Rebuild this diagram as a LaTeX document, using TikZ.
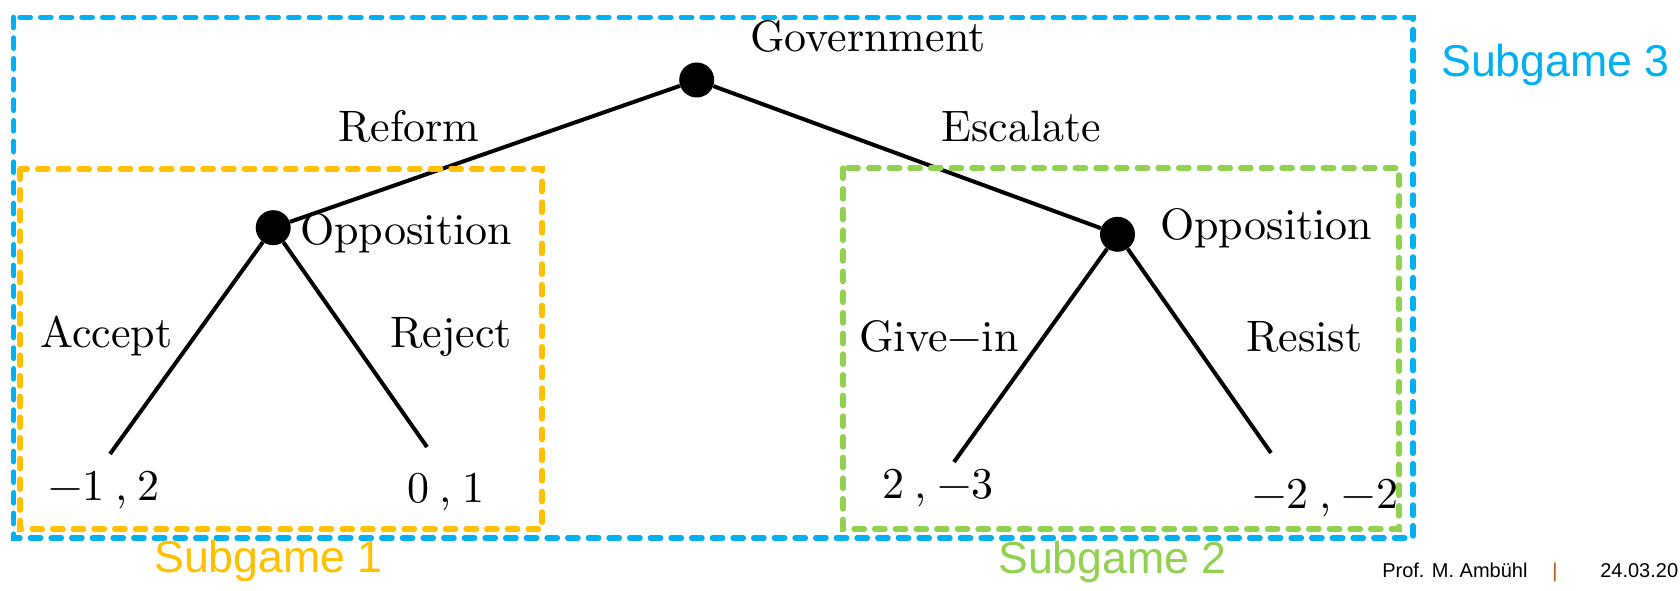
\documentclass[tikz,border=0pt]{standalone}
\usepackage{fontspec}
\newfontfamily\treefont{lmroman10-regular.otf}
\newfontfamily\sgfont{Liberation Sans}
\definecolor{sgblue}{HTML}{00B0F0}
\definecolor{sgyellow}{HTML}{FFC000}
\definecolor{sggreen}{HTML}{92D050}
\definecolor{barcol}{RGB}{180,90,20}
\newcommand{\pgap}{\hspace{0.24em}}
\tikzset{
  treetext/.style={anchor=base west, inner sep=0pt, font=\treefont\fontsize{33}{40}\selectfont},
  sglabel/.style={anchor=base west, inner sep=0pt, font=\sgfont\fontsize{33.5}{40}\selectfont},
  foot/.style={anchor=base west, inner sep=0pt, font=\sgfont\fontsize{15}{18}\selectfont},
  decision/.style={circle, fill=black, inner sep=0pt, minimum size=26.25pt},
  branch/.style={line width=3pt, black},
  sgbox/.style={line width=4pt, line cap=round, dash pattern=on 7.8pt off 7.7pt},
}
\begin{document}
\begin{tikzpicture}[x=0.75pt, y=-0.75pt]
\useasboundingbox (0,0) rectangle (1680,591);
\clip (0,0) rectangle (1680,591);

% decision nodes
\node[decision] (root) at (696.7,80) {};
\node[decision] (oppL) at (273.2,227.7) {};
\node[decision] (oppR) at (1117.5,234.3) {};

% leaf ends
\coordinate (accE) at (110,454);
\coordinate (rejE) at (427,447);
\coordinate (givE) at (954,462);
\coordinate (resE) at (1271,453);

% branches
\draw[branch] (root) -- (oppL);
\draw[branch] (root) -- (oppR);
\draw[branch] (oppL) -- (accE);
\draw[branch] (oppL) -- (rejE);
\draw[branch] (oppR) -- (givE);
\draw[branch] (oppR) -- (resE);

% labels
\node[treetext] (gov) at (750,52) {Government};
\node[treetext] (reform) at (338,142) {Reform};
\node[treetext] (escal) at (941,142) {Escalate};
\node[treetext] (oppLt) at (300,245) {Opposition};
\node[treetext] (oppRt) at (1160,240) {Opposition};
\node[treetext] (accept) at (40,348) {Accept};
\node[treetext] (reject) at (390,348) {Reject};
\node[treetext] (givein) at (859,352) {Give−in};
\node[treetext] (resist) at (1246,352) {Resist};
\node[treetext] (payA) at (48,500) {−1\pgap,\pgap2};
\node[treetext] (payB) at (407,502) {0\pgap,\pgap1};
\node[treetext] (payC) at (882,498) {2\pgap,\pgap−3};
\node[treetext] (payD) at (1252,508) {−2\pgap,\pgap−2};

% subgame boxes
\draw[sgbox, sgblue] (13.7,17.3) rectangle (1413,538);
\draw[sgbox, sgyellow] (20,169) rectangle (542,529);
\draw[sgbox, sggreen] (843,168) rectangle (1399,529);

\node[sglabel, text=sgblue] (sg3) at (1441,77) {Subgame 3};
\node[sglabel, text=sgyellow] (sg1) at (154,572) {Subgame 1};
\node[sglabel, text=sggreen] (sg2) at (998,573) {Subgame 2};

% footer
\node[foot] (prof) at (1382,577) {Prof. M. Ambühl};
\node[foot, text=barcol] (bar) at (1552,577) {|};
\node[foot] (date) at (1600,577) {24.03.20};
\end{tikzpicture}
\end{document}
